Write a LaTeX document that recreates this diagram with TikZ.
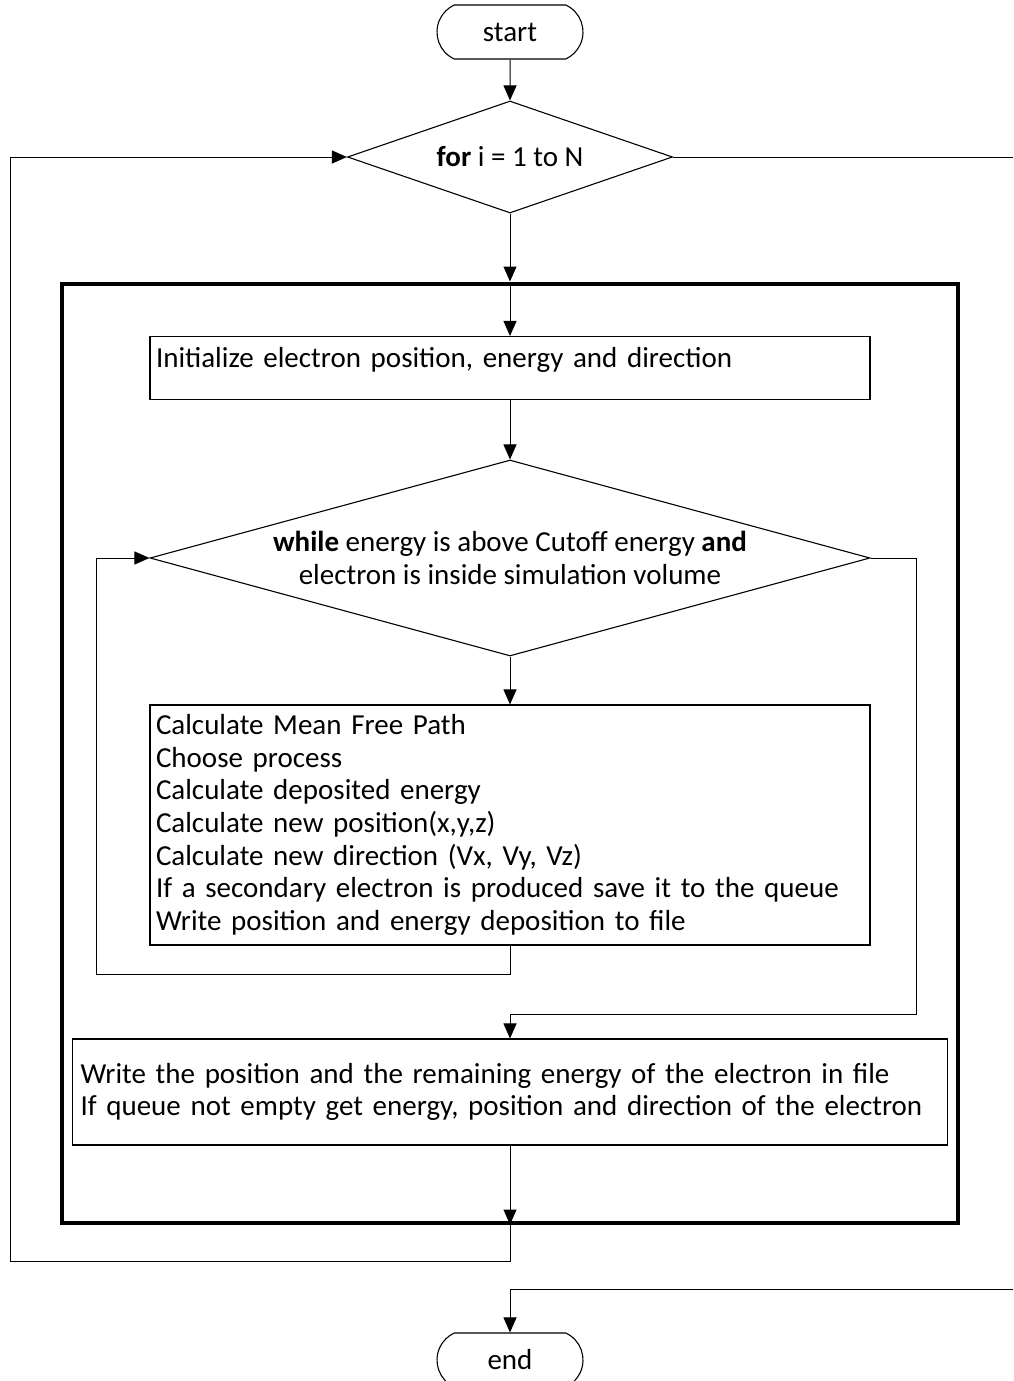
\documentclass[tikz,border=0pt]{standalone}
\usepackage{fontspec}
\setmainfont{Carlito}
\usetikzlibrary{shapes.geometric,shapes.misc,arrows.meta}
\begin{document}
\begin{tikzpicture}[x=1pt, y=-1pt,
  every node/.style={font=\fontsize{29}{32.7}\selectfont},
  terminal/.style={shape=rounded rectangle, rounded rectangle arc length=130, draw=black, line width=1.1pt, minimum width=146pt, minimum height=54pt, inner sep=0pt},
  decision/.style={shape=diamond, draw=black, line width=1.1pt, inner sep=0pt},
  process/.style={shape=rectangle, draw=black, line width=1.1pt, inner xsep=6pt, align=left},
  flow/.style={-{Triangle[length=15pt,width=13pt]}, line width=1pt, draw=black},
  line/.style={-, line width=1pt, draw=black}]
\useasboundingbox (0,0) rectangle (1013,1381);
% nodes
\node[terminal] (start) at (510,32) {start};
\node[decision, aspect=2.9, minimum width=325pt, minimum height=112pt] (for) at (510,157) {\textbf{for} i = 1 to N};
\node[shape=rectangle, draw=black, line width=4pt, minimum width=896pt, minimum height=939pt] (frame) at (510,753) {};
\node[process, text width=708pt, text depth=22pt, minimum height=63pt] (init) at (510,368) {Initialize electron position, energy and direction};
\node[decision, minimum width=720pt, minimum height=196pt, label={[align=center]center:{\textbf{while} energy is above Cutoff energy \textbf{and}\\electron is inside simulation volume}}] (while) at (510,558) {};
\node[process, text width=708pt, minimum height=240pt] (calc) at (510,825) {Calculate Mean Free Path\\Choose process\\Calculate deposited energy\\Calculate new position(x,y,z)\\Calculate new direction (Vx, Vy, Vz)\\If a secondary electron is produced save it to the queue\\Write position and energy deposition to file};
\node[process, inner xsep=8pt, text width=859pt, minimum height=106pt] (final) at (510,1092) {Write the position and the remaining energy of the electron in file\\If queue not empty get energy, position and direction of the electron};
\node[terminal] (end) at (510,1360) {end};
% straight connectors
\draw [flow] (start) -- (for);
\draw [flow] (for) -- (frame.north);
\draw [flow] (frame.north) -- (init);
\draw [flow] (init) -- (while);
\draw [flow] (while) -- (calc);
\draw [flow] (final) -- (frame.south);
% loops
\coordinate (outer loop) at (10,1261);
\draw [flow] (frame.south) |- (outer loop) |- (for.west);
\coordinate (for exit) at (1013,157);
\draw [line] (for.east) -- (for exit);
\coordinate (end entry) at (1013,1289);
\draw [flow] (end entry) -| (end.north);
\coordinate (inner loop) at (96,974);
\draw [flow] (calc.south) |- (inner loop) |- (while.west);
\coordinate (while exit) at (916,1014);
\draw [flow] (while.east) -| (while exit) -| (final.north);
\end{tikzpicture}
\end{document}
